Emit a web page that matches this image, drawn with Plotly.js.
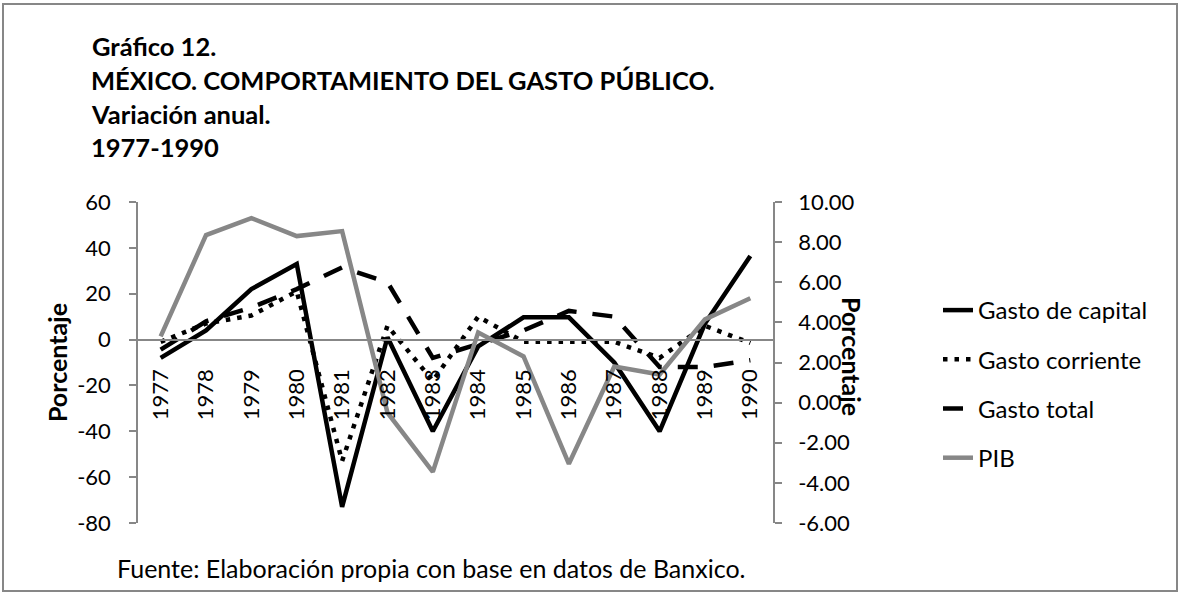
<!DOCTYPE html>
<html><head><meta charset="utf-8">
<script src="https://cdn.plot.ly/plotly-3.0.1.min.js"></script>
<style>
html,body{margin:0;padding:0;background:#fff}
#chart{width:1178px;height:592px}
#frame{position:absolute;left:2px;top:3px;width:1172px;height:585px;border:2px solid #878787;pointer-events:none}
</style>
</head><body><div id="chart"></div><div id="frame"></div>
<script>
const years = ['1977','1978','1979','1980','1981','1982','1983','1984','1985','1986','1987','1988','1989','1990'];
const gastoCapital   = [-8, 4, 22, 33, -73, 1, -40, -3, 9.7, 9.7, -10, -40, 7, 36.5];
const gastoCorriente = [-1, 7, 10.5, 21, -53, 6, -18, 10, -1, -1, -1, -8, 6, -1.5];
const gastoTotal     = [-4.4, 8, 14, 22, 31.5, 25, -8, -2, 4, 12.5, 10, -12, -12, -9];
const pib            = [3.3, 8.35, 9.2, 8.3, 8.55, -0.5, -3.45, 3.5, 2.3, -3.05, 1.8, 1.4, 4.15, 5.2];

const leftTickVals  = [-80, -60, -40, -20, 0, 20, 40, 60];
const leftTickText  = ['-80', '-60', '-40', '-20', '0', '20', '40', '60'];
const rightTickVals = [-6, -4, -2, 0, 2, 4, 6, 8, 10];
const rightTickText = ['-6.00', '-4.00', '-2.00', '0.00', '2.00', '4.00', '6.00', '8.00', '10.00'];

const W = 1178, H = 592;
const M = {l: 138, r: 405, t: 202, b: 69};
const pw = W - M.l - M.r, ph = H - M.t - M.b;
const px = x => (x - M.l) / pw;
const py = y => (H - M.b - y) / ph;

const FONT = 'Lato, "Open Sans", sans-serif';
const GRAY = '#878787';
const LEFT_RANGE = [-80, 60];
const RIGHT_RANGE = [-6, 10];

const traces = [
  {x: years, y: gastoCapital, name: 'Gasto de capital', type: 'scatter', mode: 'lines',
   line: {color: '#000', width: 4.5}, legendgroup: 'a', yaxis: 'y'},
  {x: years, y: gastoCorriente, name: 'Gasto corriente', type: 'scatter', mode: 'lines',
   line: {color: '#000', width: 4.5, dash: '4.5px,7px'}, legendgroup: 'b', yaxis: 'y'},
  {x: years, y: gastoTotal, name: 'Gasto total', type: 'scatter', mode: 'lines',
   line: {color: '#000', width: 4.5, dash: '20px,16px'}, legendgroup: 'c', yaxis: 'y'},
  {x: years, y: pib, name: 'PIB', type: 'scatter', mode: 'lines',
   line: {color: GRAY, width: 4.5}, legendgroup: 'd', yaxis: 'y2'}
];

const titleFont = {family: FONT, size: 25.5, color: '#000', weight: 'bold'};
const textFont = {family: FONT, size: 22, color: '#000'};
const layout = {
  width: W, height: H,
  margin: M,
  paper_bgcolor: '#fff', plot_bgcolor: '#fff',
  font: textFont,
  showlegend: true,
  title: {text: '<b>Gráfico 12.</b>', font: titleFont, x: 92 / W, xanchor: 'left', y: 1 - 47 / H, yanchor: 'middle'},
  xaxis: {
    type: 'category', range: [-0.5, 13.5], anchor: 'free',
    position: (0 - LEFT_RANGE[0]) / (LEFT_RANGE[1] - LEFT_RANGE[0]),
    showline: true, linecolor: GRAY, linewidth: 1.5, ticks: '', showgrid: false, zeroline: false,
    tickangle: -90, tickfont: textFont, ticklabelstandoff: 20
  },
  yaxis: {
    range: LEFT_RANGE, tickvals: leftTickVals, ticktext: leftTickText, showgrid: false, zeroline: false,
    showline: true, linecolor: GRAY, linewidth: 1.5, ticks: 'outside', ticklen: 7, tickcolor: GRAY, tickwidth: 1.5,
    tickfont: textFont, ticklabelstandoff: 14,
    title: {text: '<b>Porcentaje</b>', font: {family: FONT, size: 25, color: '#000'}, standoff: 2}
  },
  yaxis2: {
    range: RIGHT_RANGE, tickvals: rightTickVals, ticktext: rightTickText, overlaying: 'y', side: 'right',
    showgrid: false, zeroline: false,
    showline: true, linecolor: GRAY, linewidth: 1.5, ticks: 'outside', ticklen: 7, tickcolor: GRAY, tickwidth: 1.5,
    tickfont: textFont, ticklabelstandoff: 12
  },
  legend: {
    x: px(938), xanchor: 'left', y: py(288), yanchor: 'top',
    font: {family: FONT, size: 24, color: '#000'}, tracegroupgap: 15,
    bgcolor: 'rgba(0,0,0,0)'
  },
  annotations: [
    {text: '<b>MÉXICO. COMPORTAMIENTO DEL GASTO PÚBLICO.</b>', xref: 'paper', yref: 'paper', x: px(89), y: py(80), xanchor: 'left', yanchor: 'middle', showarrow: false, font: titleFont},
    {text: '<b>Variación anual.</b>', xref: 'paper', yref: 'paper', x: px(89), y: py(114), xanchor: 'left', yanchor: 'middle', showarrow: false, font: titleFont},
    {text: '<b>1977-1990</b>', xref: 'paper', yref: 'paper', x: px(89), y: py(147), xanchor: 'left', yanchor: 'middle', showarrow: false, font: titleFont},
    {text: '<b>Porcentaje</b>', xref: 'paper', yref: 'paper', x: px(852), y: py(356), xanchor: 'center', yanchor: 'middle', textangle: 90, showarrow: false, font: {family: FONT, size: 25, color: '#000'}},
    {text: 'Fuente: Elaboración propia con base en datos de Banxico.', xref: 'paper', yref: 'paper', x: px(115), y: py(568), xanchor: 'left', yanchor: 'middle', showarrow: false, font: {family: FONT, size: 25, color: '#000'}}
  ]
};

Plotly.newPlot('chart', traces, layout, {displayModeBar: false, responsive: false});
</script>
</body></html>
